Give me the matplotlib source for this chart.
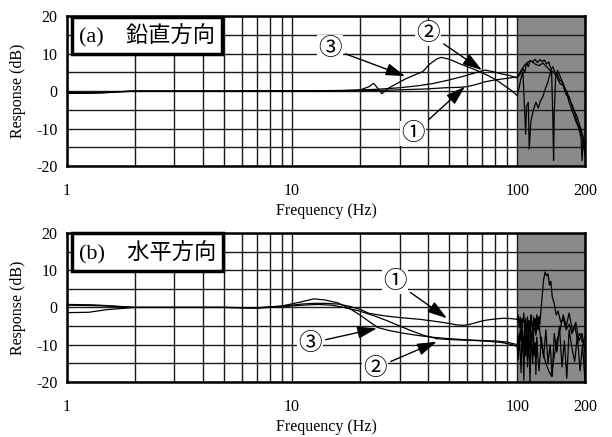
import numpy as np
import matplotlib
matplotlib.use("Agg")
import matplotlib.pyplot as plt
from matplotlib.ticker import FixedLocator, NullFormatter

plt.rcParams["font.family"] = ["Liberation Serif", "Noto Sans CJK JP", "DejaVu Sans"]
plt.rcParams["axes.unicode_minus"] = False

# ---- data ----
X_TICKS = [1, 10, 100, 200]
X_TICK_LABELS = ["1", "10", "100", "200"]
X_MINOR = [2, 3, 4, 5, 6, 7, 8, 9, 20, 30, 40, 50, 60, 70, 80, 90]
Y_TICKS = [-20, -10, 0, 10, 20]
Y_MINOR = [-15, -5, 5, 15]
SHADE_RANGE = [100, 200]

# (a) vertical, passband part
a1_f = [1, 1.2, 1.45, 1.7, 2, 3, 5, 8, 12, 18, 25, 32, 40, 48, 55, 60, 66, 72, 80, 90, 100]
a1_db = [-0.6, -0.6, -0.5, -0.2, 0, 0, 0, 0, 0, 0.1, 0.2, 0.4, 0.6, 0.9, 1.0, 1.2, 1.8, 2.5, 3.0, 3.4, 3.8]
a2_f = [1, 1.2, 1.45, 2, 3, 5, 8, 12, 18, 24, 30, 36, 42, 50, 58, 66, 72, 78, 85, 92, 100]
a2_db = [-0.4, -0.5, -0.3, 0, 0, 0, 0.1, 0.1, 0.2, 0.5, 0.9, 1.4, 2.0, 3.0, 4.0, 5.0, 5.6, 5.2, 4.6, 4.2, 3.5]
a3_f = [1, 1.3, 2, 3, 5, 8, 12, 16, 20, 22, 23, 24, 25, 27, 30, 32, 35, 38, 41, 44, 46, 50, 56,
        62, 68, 75, 81, 90, 95, 100]
a3_db = [-0.3, -0.4, 0, 0, 0, 0, 0, 0.1, 0.3, 1.2, 2.1, 0.8, -0.7, 0.9, 2.4, 3.3, 4.3, 5.2, 7.3,
         8.6, 9.0, 8.5, 7.2, 6.2, 5.2, 4.0, 2.9, 1.0, 0.0, -1.2]

# (a) shaded region (100-200 Hz)
a1_hf = [100, 103, 106, 108, 110, 112, 114, 117, 120, 123, 126, 129, 132, 135, 138, 141, 144,
         147, 150, 154, 158, 162, 166, 170, 175, 180, 185, 190, 195, 200]
a1_hdb = [3.8, 4.5, 6.0, 5.0, 7.5, 6.5, 8.2, 7.8, 8.5, 7.6, 8.4, 7.9, 8.3, 7.2, 7.8, 6.0, 6.5,
          5.0, 4.8, 3.0, 2.5, 0.5, 0.0, -2.0, -3.5, -5.5, -7.0, -9.5, -11.5, -14.0]
a2_hf = [100, 104, 108, 112, 116, 120, 125, 130, 135, 140, 145, 150, 155, 160, 165, 170, 175,
         180, 185, 190, 195, 200]
a2_hdb = [3.5, 5.5, 7.0, 7.8, 8.0, 7.2, 6.8, 7.5, 6.5, 5.5, 5.0, 3.8, 2.0, 1.5, -1.0, -1.5,
          -4.0, -6.0, -8.5, -10.0, -13.0, -17.0]
a3_hf = [100, 102, 104, 106, 108, 109, 110, 112, 113, 115, 118, 121, 124, 127, 130, 133, 136,
         139, 142, 144, 145, 146, 148, 151, 155, 160, 165, 170, 176, 182, 188, 192, 194, 196, 200]
a3_hdb = [-1.2, 1.0, 3.5, 5.0, -6.0, -11.5, -4.0, -3.0, -15.5, -8.0, -5.0, -3.0, -4.5, -2.5,
          -1.5, 0.5, 2.0, 4.0, 6.0, -8.0, -18.5, -6.0, 3.5, 5.5, 4.0, 2.0, 0.0, -3.0, -5.5,
          -8.0, -10.0, -12.5, -18.5, -13.0, -16.0]

# (b) horizontal, passband part
b1_f = [1, 1.3, 1.6, 2, 3, 5, 7, 9, 10, 11, 12.5, 14, 16, 18, 20, 22, 26, 31, 37, 44, 50, 54,
        58, 62, 68, 73, 80, 87, 94, 100]
b1_db = [0.8, 0.7, 0.4, 0, 0, 0, -0.1, 0.3, 0.6, 0.9, 1.1, 1.1, 0.9, 0.3, -0.5, -1.6, -2.3,
         -2.8, -3.2, -3.8, -4.3, -4.7, -4.8, -4.5, -3.8, -3.4, -3.1, -2.9, -3.0, -3.2]
b2_f = [1, 1.25, 1.5, 2, 3, 5, 7, 9, 11, 13, 15, 17, 20, 23, 26, 29, 33, 38, 44, 50, 58, 66,
        75, 85, 95, 100]
b2_db = [-1.4, -1.3, -0.6, 0, 0, 0, -0.2, 0.2, 0.6, 0.8, 0.6, 0.0, -1.0, -2.2, -3.4, -4.6,
         -6.0, -7.4, -8.4, -8.6, -8.8, -8.9, -9.1, -9.4, -10.0, -10.5]
b3_f = [1, 1.3, 1.6, 2, 3, 5, 7, 9, 11, 12.5, 14, 16, 18, 20, 22, 24, 27, 31, 36, 42, 50, 60,
        70, 80, 90, 100]
b3_db = [0.6, 0.5, 0.3, 0, 0, 0, -0.1, 0.4, 1.5, 2.3, 2.0, 1.2, -0.3, -2.0, -3.8, -5.4, -6.2,
         -6.9, -7.5, -8.0, -8.4, -8.7, -8.9, -9.0, -9.3, -10.0]

# (b) shaded region (100-200 Hz)
b1_hf = [100, 101, 102, 103, 104, 105, 106, 107, 108, 109, 110, 111, 112, 113, 114, 115, 116,
         117, 118, 119, 120, 121, 122, 123, 124, 125, 126, 127, 129, 131, 133, 135, 137, 139,
         141, 143, 146, 149, 152, 156, 160, 165, 170, 175, 180, 185, 190, 195, 200]
b1_hdb = [-3.2, -2.0, -5.5, -2.5, -7.0, -3.0, -4.0, -1.5, -6.5, -3.0, -9.0, -2.5, -5.5, -3.5,
          -8.0, -2.0, -4.5, -6.5, -2.5, -5.0, -3.0, -7.5, -2.0, -4.0, -6.0, -2.5, -4.5, -2.0,
          3.0, 7.5, 9.5, 8.5, 9.0, 6.0, 7.0, 3.0, 1.0, -2.0, -1.0, -4.0, -3.0, -6.0, -4.5,
          -7.0, -5.0, -8.5, -7.0, -9.5, -8.0]
b2_hf = [100, 101, 102, 103, 104, 105, 106, 107, 108, 109, 110, 111, 112, 113, 114, 115, 116,
         117, 118, 119, 120, 121, 122, 123, 125, 128, 131, 134, 137, 140, 143, 146, 150, 154,
         158, 162, 166, 170, 175, 180, 185, 190, 195, 200]
b2_hdb = [-10.5, -14.0, -7.0, -12.0, -17.5, -6.0, -11.0, -19.5, -8.0, -13.0, -5.0, -16.0,
          -9.0, -12.5, -20.0, -7.0, -11.0, -15.0, -6.5, -13.0, -9.5, -18.0, -8.0, -12.0,
          -17.0, -8.0, -13.5, -6.0, -15.0, -10.0, -18.5, -7.0, -12.0, -5.0, -16.0, -9.0,
          -19.0, -6.0, -11.0, -14.5, -7.5, -17.0, -10.0, -20.0]
b3_hf = [100, 101, 102, 103, 104, 105, 106, 107, 108, 109, 110, 111, 112, 113, 114, 115, 116,
         118, 121, 124, 127, 130, 134, 138, 142, 146, 150, 155, 160, 165, 170, 176, 182, 188,
         194, 200]
b3_hdb = [-10.0, -7.5, -11.5, -6.0, -9.0, -3.5, -12.0, -8.0, -5.0, -10.5, -7.0, -13.0, -4.0,
          -9.0, -11.5, -6.0, -9.5, -5.0, -7.0, -3.0, -8.5, -12.0, -15.0, -17.0, -18.5, -13.0,
          -9.0, -6.0, -2.0, -5.0, -1.5, -6.5, -4.0, -9.0, -7.0, -12.0]

# annotations: label, text position (Hz, dB), arrow tip (Hz, dB)
a_notes = [("③", (14.7, 11.5), (31.8, 4.0)),
           ("②", (40.3, 15.4), (69.7, 5.6)),
           ("①", (34.6, -11.3), (58.6, 1.2))]
b_notes = [("①", (28.7, 6.9), (48.7, -2.9)),
           ("③", (12.0, -9.6), (23.8, -5.6)),
           ("②", (23.4, -16.3), (43.9, -9.2))]


def draw_panel(ax, curves, notes, title):
    ax.axvspan(SHADE_RANGE[0], SHADE_RANGE[1], color="#8a8a8a", zorder=0.2, lw=0)
    for f, db, hf, hdb in curves:
        ax.plot(f + hf[1:], db + hdb[1:], color="black", lw=0.9, zorder=3)
    ax.set_xscale("log")
    ax.set_xlim(1, 200)
    ax.set_ylim(-20, 20)
    ax.xaxis.set_major_locator(FixedLocator(X_TICKS))
    ax.xaxis.set_minor_locator(FixedLocator(X_MINOR))
    ax.xaxis.set_minor_formatter(NullFormatter())
    ax.set_xticklabels(X_TICK_LABELS)
    ax.yaxis.set_major_locator(FixedLocator(Y_TICKS))
    ax.yaxis.set_minor_locator(FixedLocator(Y_MINOR))
    ax.set_axisbelow(True)
    ax.grid(True, which="both", color="#1a1a1a", lw=1.0)
    ax.tick_params(which="both", length=0, labelsize=11.5)
    ax.tick_params(axis="x", pad=12)
    ax.tick_params(axis="y", pad=7)
    for sp in ax.spines.values():
        sp.set_linewidth(1.8)
    ax.set_xlabel("Frequency (Hz)", fontsize=11.5, labelpad=3)
    ax.set_ylabel("Response (dB)", fontsize=11.5)
    ax.yaxis.set_label_coords(-0.08, 0.5)

    ax.text(0.023, 0.87, title, transform=ax.transAxes, ha="left", va="center",
            fontsize=16, zorder=5,
            bbox=dict(boxstyle="square,pad=0.32", fc="white", ec="black", lw=2.5))

    for label, xy_text, xy_tip in notes:
        ax.annotate(label, xy=xy_tip, xytext=xy_text, ha="center", va="center",
                    fontsize=17, family=["Noto Sans CJK JP"], zorder=6,
                    bbox=dict(boxstyle="square,pad=0.05", fc="white", ec="none"),
                    arrowprops=dict(arrowstyle="-|>,head_length=0.7,head_width=0.22",
                                    color="black", lw=1.0, shrinkA=2, shrinkB=0))


fig = plt.figure(figsize=(6.12, 4.37), dpi=100)
ax_a = fig.add_axes([0.1095, 0.620, 0.8464, 0.343])
ax_b = fig.add_axes([0.1095, 0.126, 0.8464, 0.341])

draw_panel(ax_a, [(a1_f, a1_db, a1_hf, a1_hdb), (a2_f, a2_db, a2_hf, a2_hdb),
                  (a3_f, a3_db, a3_hf, a3_hdb)], a_notes, "(a)\u3000鉛直方向")
draw_panel(ax_b, [(b1_f, b1_db, b1_hf, b1_hdb), (b2_f, b2_db, b2_hf, b2_hdb),
                  (b3_f, b3_db, b3_hf, b3_hdb)], b_notes, "(b)\u3000水平方向")

fig.savefig("out.png", dpi=100)
